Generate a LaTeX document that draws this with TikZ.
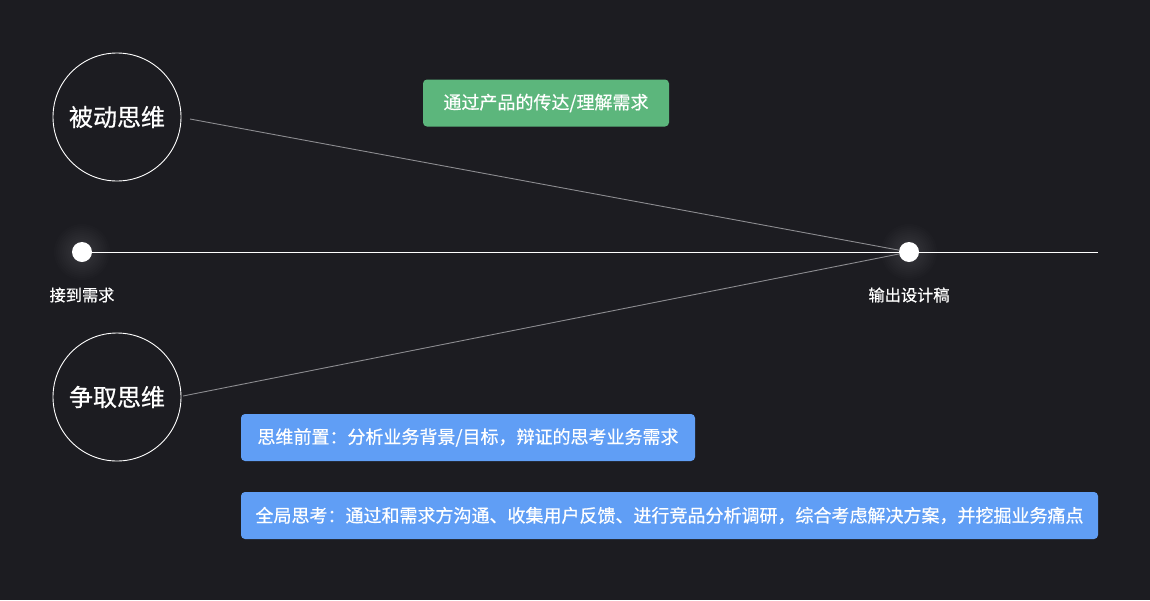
\documentclass[tikz,border=0pt]{standalone}
\usepackage{fontspec}
\setmainfont[FakeBold=0.6]{Noto Sans CJK SC}
\usetikzlibrary{positioning}
\definecolor{bgdark}{HTML}{1C1C21}
\definecolor{tipgreen}{HTML}{5CB67C}
\definecolor{tipblue}{HTML}{609EF5}
\definecolor{rayg}{HTML}{8C8C90}

\begin{document}
\begin{tikzpicture}[x=1pt, y=-1pt,
    mind/.style={circle, draw=white, line width=0.9pt, minimum size=128pt, inner sep=0pt, text=white, font=\fontsize{24}{27}\selectfont},
    dot/.style={circle, fill=white, minimum size=20pt, inner sep=0pt},
    tip/.style={rounded corners=4pt, inner sep=0pt, minimum height=47pt, text=white, font=\fontsize{18}{21}\selectfont},
    lbl/.style={text=white, font=\fontsize{16.2}{19}\selectfont}]
                        \fill[bgdark] (0,0) rectangle (1150,600);
                        \useasboundingbox (0,0) rectangle (1150,600);

                        % soft glow round the dots
                        \foreach \gx in {82, 909} {
                            \foreach \gr in {28, 26, ..., 12}
                                \fill[white, opacity=0.012] (\gx,252) circle (\gr pt);
                        }

                        \node[mind] (pm) at (117, 117) {被动思维};
                        \node[mind] (am) at (117, 397) {争取思维};
                        \coordinate (pmo) at (190, 119);
                        \coordinate (amo) at (183, 396);
                        \coordinate (end) at (1098, 252);

                        \node[dot] (in) at (82, 252) {};
                        \node[dot] (out) at (909, 252) {};
                        \node[lbl] (inl) at (82, 295) {接到需求};
                        \node[lbl] (outl) at (909, 295) {输出设计稿};

                        \node[tip, fill=tipgreen, minimum width=246pt] (pt) at (546, 103) {通过产品的传达/理解需求};
                        \node[tip, fill=tipblue, minimum width=454pt] (at1) at (468, 437.5) {思维前置：分析业务背景/目标，辩证的思考业务需求};
                        \node[tip, fill=tipblue, minimum width=857pt] (at2) at (669.5, 515.5) {全局思考：通过和需求方沟通、收集用户反馈、进行竞品分析调研，综合考虑解决方案，并挖掘业务痛点};

                        \draw[white, line width=0.9pt]
                        (in) -- (out)
                        (out) -- (end);
                        \draw[rayg, line width=0.9pt]
                        (pmo) -- (out)
                        (amo) -- (out);
                    \end{tikzpicture}
\end{document}
